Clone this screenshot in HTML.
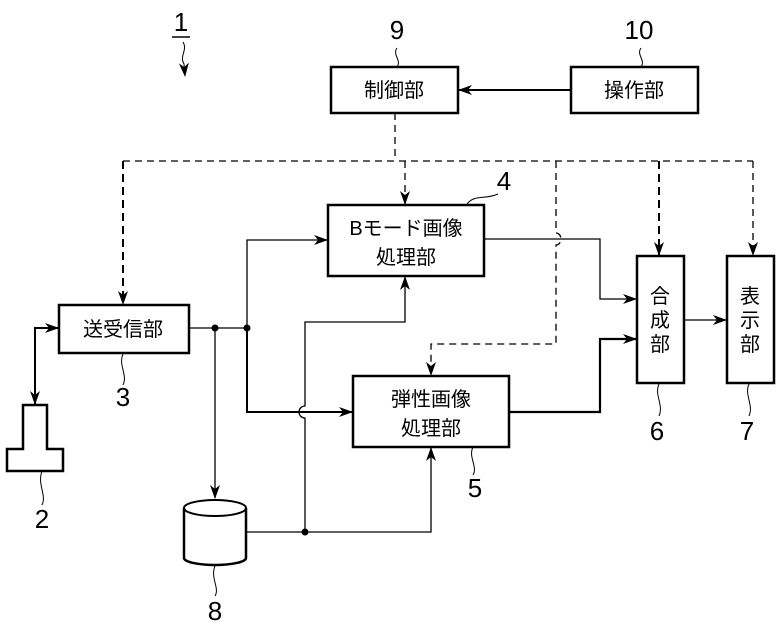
<!DOCTYPE html>
<html><head><meta charset="utf-8"><style>
html,body{margin:0;padding:0;background:#fff;}
svg{display:block;}
text{font-family:"Liberation Sans","Noto Sans CJK JP",sans-serif;fill:#000;}
.b{font-size:20px;}
.n{font-size:26px;}
</style></head><body>
<svg width="777" height="625" viewBox="0 0 777 625" xmlns="http://www.w3.org/2000/svg">
<defs>
<marker id="a" markerWidth="14" markerHeight="10" refX="13" refY="5" orient="auto" markerUnits="userSpaceOnUse">
<path d="M0,0 L14,5 L0,10 L4,5 Z" fill="#000"/>
</marker>
</defs>
<g fill="none" stroke="#000">
<rect x="331" y="67" width="127" height="46" stroke-width="2.5"/>
<rect x="571" y="67" width="127" height="46" stroke-width="2.5"/>
<rect x="328" y="205" width="156" height="71" stroke-width="2.5"/>
<rect x="59" y="305" width="130" height="48" stroke-width="2.5"/>
<rect x="353" y="376" width="156" height="71" stroke-width="2.5"/>
<rect x="637" y="256" width="47" height="127" stroke-width="2.5"/>
<rect x="727" y="256" width="47" height="127" stroke-width="2.5"/>
<path d="M23,449 V405 H47 V449 H63 V471 H7 V449 Z" stroke-width="2.5"/>
<path d="M184,508 V558 A31,7 0 0 0 246,558 V508" stroke-width="2.5"/>
<ellipse cx="215" cy="508" rx="31" ry="8" stroke-width="2"/>

<g stroke-dasharray="7,5" stroke-width="1.3">
<path d="M395,113 V161"/>
<path d="M123,161 H753"/>
<path d="M405,161 V204" marker-end="url(#a)"/>
<path d="M556,161 V233 A5,6 0 0 1 556,245 V344 H431 V375" marker-end="url(#a)"/>
<path d="M753,161 V255" marker-end="url(#a)"/>
</g>
<g stroke-dasharray="8,5" stroke-width="2">
<path d="M123,161 V304" marker-end="url(#a)"/>
<path d="M659,161 V255" marker-end="url(#a)"/>
</g>

<path d="M571,90 H459" stroke-width="2" marker-end="url(#a)"/>
<path d="M189,328 H247" stroke-width="1.3"/>
<path d="M247,328 V240 H327" stroke-width="1.3" marker-end="url(#a)"/>
<path d="M247,328 V412 H352" stroke-width="2" marker-end="url(#a)"/>
<path d="M215,328 V498" stroke-width="1.3" marker-end="url(#a)"/>
<path d="M247,532 H431 V448" stroke-width="1.3" marker-end="url(#a)"/>
<path d="M305,532 V418 A6,6 0 0 1 305,406 V322 H405 V277" stroke-width="1.3" marker-end="url(#a)"/>
<path d="M484,239 H600 V299 H636" stroke-width="1.3" marker-end="url(#a)"/>
<path d="M509,412 H600 V339 H636" stroke-width="2.2" marker-end="url(#a)"/>
<path d="M684,320 H726" stroke-width="1.3" marker-end="url(#a)"/>
<path d="M35,350 V328 H58" stroke-width="2" marker-end="url(#a)"/>
<path d="M35,340 V404" stroke-width="2" marker-end="url(#a)"/>

<g stroke-width="1">
<path d="M183,42 C188,50 179,56 184,64 L185,76" marker-end="url(#a)"/>
<path d="M397,48 C392,55 402,60 397,67"/>
<path d="M641,48 C636,55 646,60 641,67"/>
<path d="M467,204 C475,194 485,200 498,194"/>
<path d="M123,354 C118,365 128,375 123,385"/>
<path d="M42,471 C37,485 47,495 42,505"/>
<path d="M473,447 C468,457 478,467 473,475"/>
<path d="M659,384 C654,395 664,405 659,416"/>
<path d="M749,384 C744,395 754,405 749,416"/>
<path d="M215,566 C210,578 220,588 215,596"/>
</g>
<path d="M172,37 H190" stroke-width="1.5"/>
</g>
<circle cx="215" cy="328" r="3.5" fill="#000"/>
<circle cx="247" cy="328" r="3.5" fill="#000"/>
<circle cx="305" cy="532" r="3.5" fill="#000"/>

<text class="b" x="394" y="97" text-anchor="middle">制御部</text>
<text class="b" x="634" y="97" text-anchor="middle">操作部</text>
<text class="b" x="406" y="235" text-anchor="middle">Bモード画像</text>
<text class="b" x="406" y="264" text-anchor="middle">処理部</text>
<text class="b" x="123" y="336" text-anchor="middle">送受信部</text>
<text class="b" x="431" y="406" text-anchor="middle">弾性画像</text>
<text class="b" x="431" y="435" text-anchor="middle">処理部</text>
<text class="b" x="660" y="303" text-anchor="middle">合</text>
<text class="b" x="660" y="327" text-anchor="middle">成</text>
<text class="b" x="660" y="351" text-anchor="middle">部</text>
<text class="b" x="750" y="303" text-anchor="middle">表</text>
<text class="b" x="750" y="327" text-anchor="middle">示</text>
<text class="b" x="750" y="351" text-anchor="middle">部</text>

<text class="n" x="181" y="31" text-anchor="middle">1</text>
<text class="n" x="397" y="39" text-anchor="middle">9</text>
<text class="n" x="639" y="39" text-anchor="middle">10</text>
<text class="n" x="504" y="190" text-anchor="middle">4</text>
<text class="n" x="123" y="406" text-anchor="middle">3</text>
<text class="n" x="42" y="528" text-anchor="middle">2</text>
<text class="n" x="475" y="497" text-anchor="middle">5</text>
<text class="n" x="657" y="440" text-anchor="middle">6</text>
<text class="n" x="747" y="440" text-anchor="middle">7</text>
<text class="n" x="215" y="620" text-anchor="middle">8</text>
</svg>
</body></html>
